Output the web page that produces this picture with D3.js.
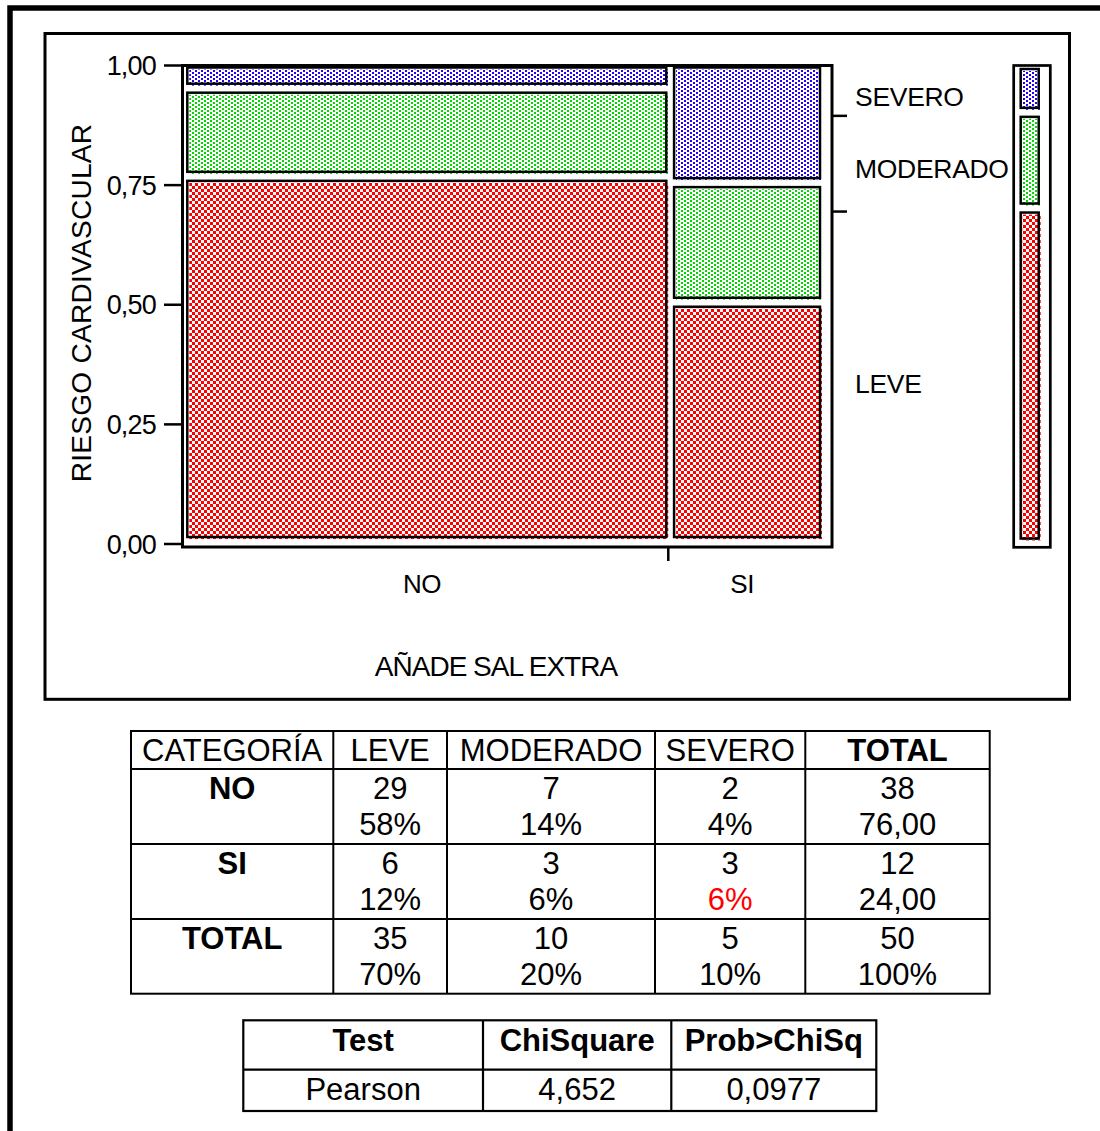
<!DOCTYPE html>
<html>
<head>
<meta charset="utf-8">
<script src="https://cdn.jsdelivr.net/npm/d3@7"></script>
<style>
  body { margin: 0; background: #fff; }
  svg { display: block; }
  text { font-family: "Liberation Sans", Arial, sans-serif; fill: #000; }
</style>
</head>
<body>
<svg id="chart" width="1100" height="1131"></svg>
<script>
// ---- data ----
const groups = ["NO", "SI"];
const levels = ["LEVE", "MODERADO", "SEVERO"];
const countsNO = [29, 7, 2];
const countsSI = [6, 3, 3];
const yTicks = [0, 0.25, 0.5, 0.75, 1];
const tableHeader = ["CATEGORÍA", "LEVE", "MODERADO", "SEVERO", "TOTAL"];
const testHeader = ["Test", "ChiSquare", "Prob>ChiSq"];
const testNames = ["Pearson"];
const chiSquare = [4.652];
const probChiSq = [0.0977];
const highlightCell = { row: "SI", col: "SEVERO" };

const levelColors = { LEVE: "#ff0000", MODERADO: "#00d800", SEVERO: "#2200ff" };

// Spanish number formatting (decimal comma)
const loc = d3.formatLocale({ decimal: ",", thousands: ".", grouping: [3], currency: ["", ""] });
const fmt2 = loc.format(".2f");
const fmtPct = loc.format(".0%");
const fmtChi = loc.format(".3f");
const fmtProb = loc.format(".4f");

const countsByGroup = { NO: countsNO, SI: countsSI };
const groupTotals = groups.map(g => d3.sum(countsByGroup[g]));
const grandTotal = d3.sum(groupTotals);
const levelTotals = levels.map((_, i) => d3.sum(groups, g => countsByGroup[g][i]));

const svg = d3.select("#chart");

// ---- fill patterns: red checkerboard, green / blue staggered dots ----
const defs = svg.append("defs");
const cs = 3;
const checker = defs.append("pattern").attr("id", "pat-LEVE")
  .attr("patternUnits", "userSpaceOnUse").attr("width", 2 * cs).attr("height", 2 * cs);
checker.append("rect").attr("width", 2 * cs).attr("height", 2 * cs).attr("fill", "#fff");
checker.append("rect").attr("width", cs).attr("height", cs).attr("fill", levelColors.LEVE);
checker.append("rect").attr("x", cs).attr("y", cs).attr("width", cs).attr("height", cs).attr("fill", levelColors.LEVE);
["MODERADO", "SEVERO"].forEach(lv => {
  const p = defs.append("pattern").attr("id", "pat-" + lv)
    .attr("patternUnits", "userSpaceOnUse").attr("width", 6).attr("height", 4);
  p.append("rect").attr("width", 6).attr("height", 4).attr("fill", "#fff");
  p.append("rect").attr("width", 2).attr("height", 2).attr("fill", levelColors[lv]);
  p.append("rect").attr("x", 3).attr("y", 2).attr("width", 2).attr("height", 2).attr("fill", levelColors[lv]);
});
defs.selectAll("rect").attr("shape-rendering", "crispEdges");

// ---- frames ----
svg.append("path").attr("d", "M10,1140 V8 H1110")
  .attr("fill", "none").attr("stroke", "#000").attr("stroke-width", 5.5);
svg.append("rect").attr("x", 45).attr("y", 33.5).attr("width", 1024.5).attr("height", 665.8)
  .attr("fill", "none").attr("stroke", "#000").attr("stroke-width", 3);

// ---- scales ----
const x = d3.scaleLinear().domain([0, 1]).range([185.5, 826]);
const y = d3.scaleLinear().domain([0, 1]).range([544, 65.5]);

// plot frame
svg.append("rect").attr("x", 182.5).attr("y", 65.5).attr("width", 649.5).attr("height", 481.5)
  .attr("fill", "none").attr("stroke", "#000").attr("stroke-width", 3);

// y axis ticks and labels
const yAxis = svg.append("g");
yAxis.selectAll("line").data(yTicks).join("line")
  .attr("x1", 164).attr("x2", 182.5)
  .attr("y1", d => y(d)).attr("y2", d => y(d))
  .attr("stroke", "#000").attr("stroke-width", 2.5);
yAxis.selectAll("text").data(yTicks).join("text")
  .attr("x", 156).attr("y", d => y(d)).attr("dy", "0.36em")
  .attr("text-anchor", "end").attr("font-size", 27).attr("letter-spacing", -0.8)
  .text(d => fmt2(d));

svg.append("text")
  .attr("transform", "translate(91,303) rotate(-90)")
  .attr("text-anchor", "middle").attr("font-size", 28).attr("letter-spacing", 0.3)
  .text("RIESGO CARDIVASCULAR");

// ---- mosaic cells ----
const cells = [];
let cx = 0;
groups.forEach((g, gi) => {
  const w = groupTotals[gi] / grandTotal;
  let cy = 0;
  levels.forEach((lv, li) => {
    const h = countsByGroup[g][li] / groupTotals[gi];
    cells.push({ group: g, level: lv, x0: cx, x1: cx + w, y0: cy, y1: cy + h });
    cy += h;
  });
  cx += w;
});

const cellG = svg.append("g").selectAll("g").data(cells).join("g");
const bx = d => x(d.x0) + 1.8;
const bw = d => x(d.x1) - x(d.x0) - 7.8;
const by = d => y(d.y1) + 2;
const bh = d => y(d.y0) - y(d.y1) - 9;
cellG.append("rect")
  .attr("x", d => bx(d) + 2).attr("y", d => by(d) + 2)
  .attr("width", bw).attr("height", bh)
  .attr("fill", d => `url(#pat-${d.level})`);
cellG.append("rect")
  .attr("x", bx).attr("y", by).attr("width", bw).attr("height", bh)
  .attr("fill", "none").attr("stroke", "#000").attr("stroke-width", 2.5);

// x axis: separator tick and group labels
const groupSpans = [];
let acc = 0;
groups.forEach((g, gi) => {
  const w = groupTotals[gi] / grandTotal;
  groupSpans.push({ group: g, x0: acc, x1: acc + w });
  acc += w;
});
svg.append("g").selectAll("line").data(groupSpans.slice(1)).join("line")
  .attr("x1", d => x(d.x0) - 4).attr("x2", d => x(d.x0) - 4)
  .attr("y1", 547).attr("y2", 561)
  .attr("stroke", "#000").attr("stroke-width", 2.5);
svg.append("g").selectAll("text").data(groupSpans).join("text")
  .attr("x", d => (x(d.x0) + x(d.x1)) / 2 - 7).attr("y", 593)
  .attr("text-anchor", "middle").attr("font-size", 26).attr("letter-spacing", -0.5)
  .text(d => d.group);
svg.append("text").attr("x", 496).attr("y", 676)
  .attr("text-anchor", "middle").attr("font-size", 28).attr("letter-spacing", -1)
  .text("AÑADE SAL EXTRA");

// ---- marginal distribution ----
const margin = [];
let mc = 0;
levels.forEach((lv, li) => {
  const h = levelTotals[li] / grandTotal;
  margin.push({ level: lv, y0: mc, y1: mc + h });
  mc += h;
});

// boundary ticks on the right of the plot frame
svg.append("g").selectAll("line").data(margin.slice(0, -1)).join("line")
  .attr("x1", 833).attr("x2", 847)
  .attr("y1", d => y(d.y1) + 2.5).attr("y2", d => y(d.y1) + 2.5)
  .attr("stroke", "#000").attr("stroke-width", 2.5);
svg.append("g").selectAll("text").data(margin).join("text")
  .attr("x", 855).attr("y", d => y((d.y0 + d.y1) / 2) + 7).attr("dy", "0.36em")
  .attr("font-size", 26.5).attr("letter-spacing", -0.3)
  .text(d => d.level);

svg.append("rect").attr("x", 1013.7).attr("y", 65.5).attr("width", 36.6).attr("height", 481.8)
  .attr("fill", "none").attr("stroke", "#000").attr("stroke-width", 2.7);
const mg = svg.append("g").selectAll("g").data(margin).join("g");
const mx = 1020.7, mw = 18;
const my = d => y(d.y1) + 3.5;
const mh = d => y(d.y0) - y(d.y1) - 9;
mg.append("rect").attr("x", mx + 2).attr("y", d => my(d) + 2)
  .attr("width", mw).attr("height", mh).attr("fill", d => `url(#pat-${d.level})`);
mg.append("rect").attr("x", mx).attr("y", my).attr("width", mw).attr("height", mh)
  .attr("fill", "none").attr("stroke", "#000").attr("stroke-width", 2.5);

// ---- contingency table ----
const t1Cols = [131, 333.3, 447, 655, 805.3, 989.7];
const t1Rows = [731, 769, 844, 919, 993.7];
const t1 = svg.append("g");
t1.append("rect").attr("x", t1Cols[0]).attr("y", t1Rows[0])
  .attr("width", t1Cols[5] - t1Cols[0]).attr("height", t1Rows[4] - t1Rows[0])
  .attr("fill", "none").attr("stroke", "#000").attr("stroke-width", 2);
t1.selectAll("line.v").data(t1Cols.slice(1, -1)).join("line").attr("class", "v")
  .attr("x1", d => d).attr("x2", d => d).attr("y1", t1Rows[0]).attr("y2", t1Rows[4])
  .attr("stroke", "#000").attr("stroke-width", 2);
t1.selectAll("line.h").data(t1Rows.slice(1, -1)).join("line").attr("class", "h")
  .attr("x1", t1Cols[0]).attr("x2", t1Cols[5]).attr("y1", d => d).attr("y2", d => d)
  .attr("stroke", "#000").attr("stroke-width", 2);

const colMid = i => (t1Cols[i] + t1Cols[i + 1]) / 2;
t1.selectAll("text.hd").data(tableHeader).join("text").attr("class", "hd")
  .attr("x", (d, i) => colMid(i)).attr("y", t1Rows[0] + 30)
  .attr("text-anchor", "middle").attr("font-size", 31)
  .attr("font-weight", d => d === "TOTAL" ? "bold" : "normal")
  .text(d => d);

const tableRows = groups.map((g, gi) => ({
  name: g,
  counts: countsByGroup[g],
  total: groupTotals[gi],
  totalLabel: fmt2(groupTotals[gi] / grandTotal * 100)
}));
tableRows.push({ name: "TOTAL", counts: levelTotals, total: grandTotal, totalLabel: fmtPct(1) });

tableRows.forEach((r, ri) => {
  const top = t1Rows[ri + 1];
  t1.append("text").attr("x", colMid(0)).attr("y", top + 30)
    .attr("text-anchor", "middle").attr("font-size", 31).attr("font-weight", "bold")
    .text(r.name);
  r.counts.forEach((c, ci) => {
    t1.append("text").attr("x", colMid(ci + 1)).attr("y", top + 30)
      .attr("text-anchor", "middle").attr("font-size", 31).text(c);
    const hl = r.name === highlightCell.row && levels[ci] === highlightCell.col;
    t1.append("text").attr("x", colMid(ci + 1)).attr("y", top + 66)
      .attr("text-anchor", "middle").attr("font-size", 31)
      .style("fill", hl ? "#ff0000" : "#000")
      .text(fmtPct(c / grandTotal));
  });
  t1.append("text").attr("x", colMid(4)).attr("y", top + 30)
    .attr("text-anchor", "middle").attr("font-size", 31).text(r.total);
  t1.append("text").attr("x", colMid(4)).attr("y", top + 66)
    .attr("text-anchor", "middle").attr("font-size", 31).text(r.totalLabel);
});

// ---- chi-square test table ----
const t2Cols = [243.3, 483, 671.3, 876.3];
const t2Rows = [1020.3, 1069.7, 1111];
const t2 = svg.append("g");
t2.append("rect").attr("x", t2Cols[0]).attr("y", t2Rows[0])
  .attr("width", t2Cols[3] - t2Cols[0]).attr("height", t2Rows[2] - t2Rows[0])
  .attr("fill", "none").attr("stroke", "#000").attr("stroke-width", 2.2);
t2.selectAll("line.v").data(t2Cols.slice(1, -1)).join("line").attr("class", "v")
  .attr("x1", d => d).attr("x2", d => d).attr("y1", t2Rows[0]).attr("y2", t2Rows[2])
  .attr("stroke", "#000").attr("stroke-width", 2.2);
t2.append("line").attr("x1", t2Cols[0]).attr("x2", t2Cols[3])
  .attr("y1", t2Rows[1]).attr("y2", t2Rows[1]).attr("stroke", "#000").attr("stroke-width", 2.2);
const t2Mid = i => (t2Cols[i] + t2Cols[i + 1]) / 2;
t2.selectAll("text.hd").data(testHeader).join("text").attr("class", "hd")
  .attr("x", (d, i) => t2Mid(i)).attr("y", 1050.5)
  .attr("text-anchor", "middle").attr("font-size", 31).attr("font-weight", "bold")
  .text(d => d);
testNames.forEach((n, i) => {
  const vals = [n, fmtChi(chiSquare[i]), fmtProb(probChiSq[i])];
  vals.forEach((v, ci) => {
    t2.append("text").attr("x", t2Mid(ci)).attr("y", 1099.5 + i * 49)
      .attr("text-anchor", "middle").attr("font-size", 31).text(v);
  });
});
</script>
</body>
</html>
